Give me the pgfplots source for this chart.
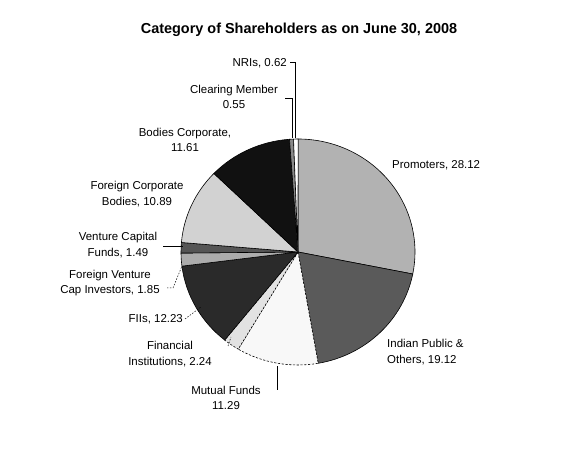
\documentclass[border=0pt]{standalone}
\usepackage{pgfplots}
\usepackage{pgfplotstable}
\pgfplotsset{compat=1.18}
\usepackage{fontspec}
\setmainfont{Liberation Sans}
\definecolor{c0}{HTML}{B2B2B2}
\definecolor{c1}{HTML}{5A5A5A}
\definecolor{c2}{HTML}{F8F8F8}
\definecolor{c3}{HTML}{E2E2E2}
\definecolor{c4}{HTML}{2A2A2A}
\definecolor{c5}{HTML}{ACACAC}
\definecolor{c6}{HTML}{555555}
\definecolor{c7}{HTML}{D2D2D2}
\definecolor{c8}{HTML}{111111}
\definecolor{c9}{HTML}{888888}
\definecolor{c10}{HTML}{FFFFFF}
% shareholding (%), clockwise from 12 o'clock
\pgfplotstableread[col sep=comma]{
idx,value,dashed
0,28.12,0
1,19.12,0
2,11.29,1
3,2.24,1
4,12.23,0
5,1.85,0
6,1.49,0
7,10.89,0
8,11.61,0
9,0.55,0
10,0.62,0
}\piedata
\begin{document}
\begin{tikzpicture}
\begin{axis}[
  x=1bp, y=1bp, scale only axis,
  xmin=0, xmax=572, ymin=0, ymax=450,
  hide axis, clip=false,
]
\addplot[draw=none, forget plot] coordinates {(0,0) (572,450)};
\path (axis cs:0,0) rectangle (axis cs:572,450);
\pgfplotsextra{
  \xdef\curang{90}
  \foreach \i in {0,...,10} {
    \pgfplotstablegetelem{\i}{value}\of\piedata \let\val\pgfplotsretval
    \pgfplotstablegetelem{\i}{dashed}\of\piedata \let\isd\pgfplotsretval
    \pgfmathsetmacro{\endang}{\curang - 3.6*\val}
    \ifnum\isd=1 \tikzset{curdash/.style={dash pattern=on 2.2pt off 1.6pt}}\else\tikzset{curdash/.style={solid}}\fi
    \filldraw[fill=c\i, draw=black, line width=0.6pt, curdash]
      (axis cs:298,198) -- ++(\curang:117bp and 113bp)
      arc[start angle=\curang, end angle=\endang, x radius=117bp, y radius=113bp] -- cycle;
    \xdef\curang{\endang}
  }
}
% title
\node[font=\bfseries\fontsize{14.5}{17}\selectfont] at (axis cs:299,420) {Category of Shareholders as on June 30, 2008};
% labels
\tikzset{lbl/.style={font=\fontsize{11.5}{15.5}\selectfont, align=center, inner sep=0pt}}
\node[lbl, anchor=east] at (axis cs:287,387) {NRIs, 0.62};
\node[lbl] at (axis cs:234,353) {Clearing Member\\0.55};
\node[lbl] at (axis cs:185,310) {Bodies Corporate,\\11.61};
\node[lbl] at (axis cs:137,256) {Foreign Corporate\\Bodies, 10.89};
\node[lbl] at (axis cs:118,205) {Venture Capital\\Funds, 1.49};
\node[lbl] at (axis cs:110,167) {Foreign Venture\\Cap Investors, 1.85};
\node[lbl, anchor=east] at (axis cs:183,131) {FIIs, 12.23};
\node[lbl] at (axis cs:170,96) {Financial\\Institutions, 2.24};
\node[lbl] at (axis cs:226,52) {Mutual Funds\\11.29};
\node[lbl, align=left, anchor=west] at (axis cs:387,98) {Indian Public \&\\Others, 19.12};
\node[lbl, anchor=west] at (axis cs:392,285) {Promoters, 28.12};
% leader lines
\draw[line width=0.5pt] (axis cs:295,312) -- (axis cs:295,388) -- (axis cs:290,388);
\draw[line width=0.5pt] (axis cs:292,312) -- (axis cs:292,352) -- (axis cs:285,352);
\draw[line width=0.5pt] (axis cs:163,204) -- (axis cs:183,204);
\draw[line width=0.5pt, dash pattern=on 1.5pt off 1.5pt] (axis cs:167,162) -- (axis cs:173,162) -- (axis cs:182,184);
\draw[line width=0.5pt, dash pattern=on 1.5pt off 1.5pt] (axis cs:185,131) -- (axis cs:201,143);
\draw[line width=0.5pt, dash pattern=on 1.5pt off 1.5pt] (axis cs:228,104) -- (axis cs:231,113);
\draw[line width=0.5pt] (axis cs:277,60) -- (axis cs:277,84);
\end{axis}
\end{tikzpicture}
\end{document}
